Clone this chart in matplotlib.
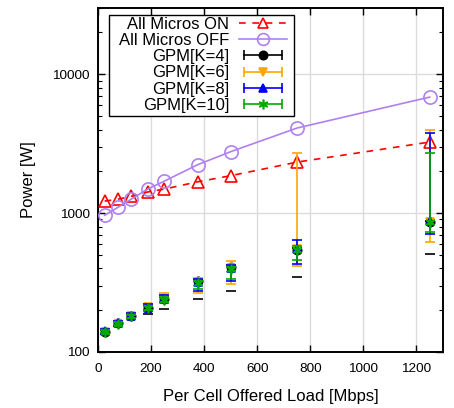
import matplotlib
matplotlib.use("Agg")
import matplotlib.pyplot as plt
from matplotlib.lines import Line2D
from matplotlib.patches import Rectangle
from matplotlib.legend_handler import HandlerLine2D
from matplotlib.ticker import LogLocator, NullFormatter, FixedLocator

plt.rcParams['font.family'] = ['Liberation Sans', 'DejaVu Sans']

# offered load per cell [Mbps]
load = [25, 75, 125, 187.5, 250, 375, 500, 750, 1250]

# baseline power [W]
all_on = [1220, 1260, 1320, 1420, 1490, 1680, 1860, 2330, 3250]
all_off = [965, 1100, 1260, 1490, 1700, 2230, 2770, 4100, 6850]

# GPM power: mean, min, max
gpm4 = [140, 161, 182, 208, 240, 325, 410, 545, 860]
gpm4_lo = [135, 155, 176, 188, 205, 240, 277, 349, 505]
gpm4_hi = [145, 166, 188, 215, 250, 335, 420, 560, 880]

gpm6 = [140, 160, 182, 210, 242, 320, 405, 550, 870]
gpm6_lo = [134, 153, 175, 200, 226, 268, 311, 413, 617]
gpm6_hi = [146, 167, 190, 222, 268, 343, 449, 2720, 3990]

gpm8 = [141, 161, 183, 209, 240, 318, 400, 555, 880]
gpm8_lo = [135, 155, 177, 200, 228, 275, 325, 427, 705]
gpm8_hi = [147, 168, 190, 220, 256, 335, 425, 637, 3800]

gpm10 = [140, 160, 181, 207, 238, 315, 398, 545, 860]
gpm10_lo = [136, 156, 177, 201, 230, 285, 335, 456, 728]
gpm10_hi = [145, 165, 186, 215, 250, 325, 410, 576, 2720]

RED = '#ff0000'
PURPLE = '#b080f0'
ORANGE = '#ffa500'
BLUE = '#0000ff'
GREEN = '#00aa00'

W, H = 454, 408
fig = plt.figure(figsize=(W / 100, H / 100), dpi=100)
ax = fig.add_axes([98 / W, 56 / H, 345 / W, 344 / H])

ax.plot(load, all_on, color=RED, ls=(0, (4, 4)), lw=1.2, marker='^', ms=8,
        mfc='none', mec=RED, mew=1.2, zorder=3)
ax.plot(load, all_off, color=PURPLE, lw=1.2, marker='o', ms=9.5,
        mfc='none', mec=PURPLE, mew=1.2, zorder=3)

gpm = [
    (gpm4, gpm4_lo, gpm4_hi, 'black', 'o'),
    (gpm6, gpm6_lo, gpm6_hi, ORANGE, 'v'),
    (gpm8, gpm8_lo, gpm8_hi, BLUE, '^'),
    (gpm10, gpm10_lo, gpm10_hi, GREEN, (6, 2, 0)),
]
for i, (y, lo, hi, c, m) in enumerate(gpm):
    err = [[a - b for a, b in zip(y, lo)], [b - a for a, b in zip(y, hi)]]
    eb = ax.errorbar(load, y, yerr=err, fmt='none', ecolor=c, elinewidth=1.2,
                     capsize=3.5, capthick=1.2, zorder=4 + i)
    if i == 0:
        # only the end caps of the K=4 range are shown
        eb[2][0].set_visible(False)
    ax.plot(load, y, ls='none', marker=m, ms=6 if m != (6, 2, 0) else 7,
            color=c, mec=c, mew=1.2, zorder=4 + i)

ax.set_yscale('log')
ax.set_xlim(0, 1300)
ax.set_ylim(100, 30000)
ax.set_xticks(range(0, 1201, 200))
ax.yaxis.set_major_locator(FixedLocator([100, 1000, 10000]))
ax.set_yticklabels(['100', '1000', '10000'])
ax.yaxis.set_minor_locator(LogLocator(base=10, subs=range(2, 10)))
ax.yaxis.set_minor_formatter(NullFormatter())

ax.tick_params(which='both', direction='in', top=True, right=True,
               labelsize=9.7)
ax.tick_params(axis='x', pad=8)
ax.tick_params(axis='y', pad=6)
ax.tick_params(which='major', length=5, width=1)
ax.tick_params(which='minor', length=3, width=0.8)
ax.grid(True, which='major', color='#dcdcdc', lw=1)
ax.set_axisbelow(True)
for s in ax.spines.values():
    s.set_linewidth(1.4)

ax.set_xlabel('Per Cell Offered Load [Mbps]', fontsize=12, labelpad=10)
ax.set_ylabel('Power [W]', fontsize=12, labelpad=12)

# legend samples: plain line + marker, or a horizontal range with end caps
h_on = Line2D([], [], color=RED, ls=(0, (4, 4)), lw=1.2, marker='^', ms=7.5,
              mfc='none', mec=RED, mew=1.2)
h_off = Line2D([], [], color=PURPLE, lw=1.2, marker='o', ms=8.5,
               mfc='none', mec=PURPLE, mew=1.2)
handles = [h_on, h_off]
hmap = {}
for y, lo, hi, c, m in gpm:
    caps = Line2D([], [], color=c, lw=1.2, marker='|', ms=7, mew=1.2)
    dot = Line2D([], [], ls='none', marker=m, ms=6 if m != (6, 2, 0) else 7,
                 color=c, mec=c, mew=1.2)
    hmap[caps] = HandlerLine2D(numpoints=2)
    handles.append((caps, dot))

labels = ['All Micros ON', 'All Micros OFF', 'GPM[K=4]', 'GPM[K=6]',
          'GPM[K=8]', 'GPM[K=10]']
leg = ax.legend(handles, labels, handler_map=hmap, markerfirst=False,
                loc='upper right', bbox_to_anchor=(287 / W, 1 - 17 / H),
                bbox_transform=fig.transFigure, borderaxespad=0,
                fontsize=12, handlelength=2.9, handletextpad=0.55,
                labelspacing=0.07, borderpad=0.0, numpoints=1,
                frameon=False)
leg.set_zorder(10)

# legend frame, drawn under the legend entries
frame = Rectangle((109 / W, 1 - 116 / H), 185 / W, 101 / H,
                  transform=fig.transFigure, fc='white', ec='black',
                  lw=1.0, zorder=9, clip_on=False)
ax.add_patch(frame)

fig.savefig('out.png', dpi=100)
